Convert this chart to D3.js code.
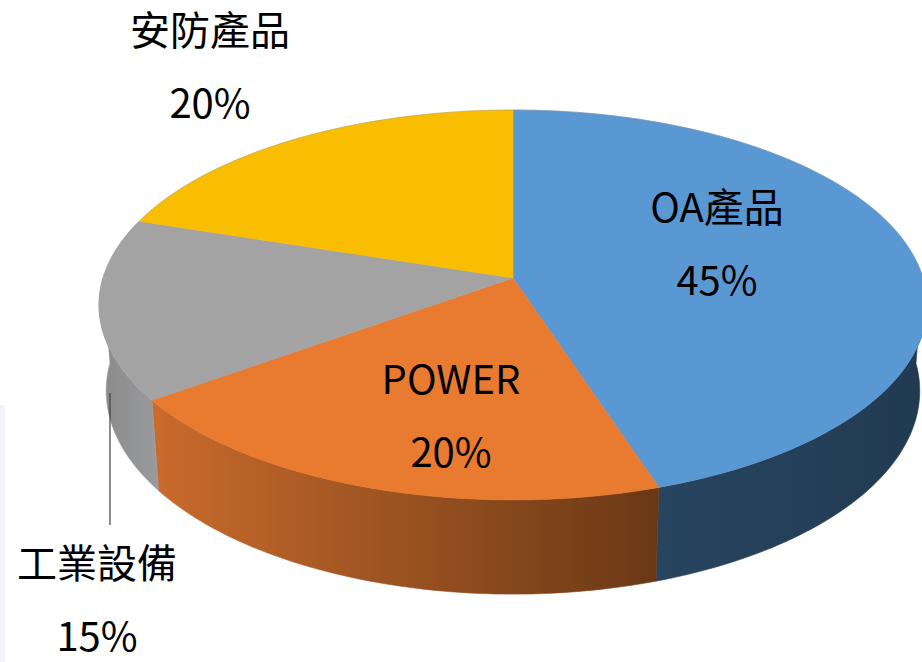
<!DOCTYPE html>
<html lang="zh-Hant">
    <head>
        <meta charset="utf-8">
        <title>產品營收比重 (3D Pie)</title>
        <script type="text/javascript" src="https://d3js.org/d3.v7.min.js"></script>
        <style type="text/css">
            body { margin: 0; background: #fff; }
            text { font-family: "Noto Sans CJK TC", "Noto Sans", sans-serif; }
        </style>
    </head>
    <body>
        <script type="text/javascript">

        //Data
        const categories = ["OA產品", "POWER", "工業設備", "安防產品"];
        const values = [45, 20, 15, 20];
        const percentLabels = ["45%", "20%", "15%", "20%"];

        //Colours: top face, wall gradient (left -> right)
        const topColors = ["#5a98d3", "#e97b31", "#a3a3a3", "#f9be02"];
        const wallColors = [["#28455f", "#213a51"], ["#c96b2c", "#6a3815"], ["#8a8a8a", "#9a9b9d"], ["#c08f00", "#c08f00"]];

        //Label anchors (x, first baseline)
        const labelPos = [[717, 222], [451, 394], [97, 578], [210, 45]];

        //Layout
        const width = 922;
        const height = 662;
        const cx = 513, cy = 278;
        const R = 410;        // radius of pie
        const H = 98;         // thickness
        const tilt = 27.8 * Math.PI / 180;
        const F = 2622;       // perspective focal length
        const sa = Math.sin(tilt), ca = Math.cos(tilt);
        const lineGap = 73;

        //project a point on the pie rim (angle t, height Y) to the screen
        function proj(t, Y, r = R) {
            const X = r * Math.cos(t), Z = r * Math.sin(t);
            const up = Y * ca + Z * sa;
            const depth = Z * ca - Y * sa;
            const k = F / (F + depth);
            return [cx + X * k, cy - up * k];
        }

        const svg = d3.select("body")
                    .append("svg")
                    .attr("width", width)
                    .attr("height", height);

        const defs = svg.append("defs");

        //faint stripe on the left edge of the original picture
        svg.append("rect")
            .attr("x", 0).attr("y", 405)
            .attr("width", 5).attr("height", height - 405)
            .attr("fill", "#f3f3fb");

        const pie = d3.pie().sort(null).value(d => d)(values);
        //convert d3 angle (clockwise from 12 o'clock) to math angle (back = +90deg)
        const toT = a => Math.PI / 2 - a;

        const line = d3.line();

        //Walls (front half only: t in [-PI, 0])
        pie.forEach((d, i) => {
            let t1 = toT(d.startAngle), t2 = toT(d.endAngle); // t1 > t2
            const hi = Math.min(t1, 0), lo = Math.max(t2, -Math.PI);
            if (hi <= lo) return;
            const ts = d3.range(0, 61).map(j => hi - (hi - lo) * j / 60);
            const topPts = ts.map(t => proj(t, 0));
            const botPts = ts.slice().reverse().map(t => proj(t, -H));
            const pts = topPts.concat(botPts);
            const xs = pts.map(p => p[0]);

            const grad = defs.append("linearGradient")
                .attr("id", "wall" + i)
                .attr("gradientUnits", "userSpaceOnUse")
                .attr("x1", d3.min(xs)).attr("x2", d3.max(xs))
                .attr("y1", 0).attr("y2", 0);
            grad.append("stop").attr("offset", 0).attr("stop-color", wallColors[i][0]);
            grad.append("stop").attr("offset", 1).attr("stop-color", wallColors[i][1]);

            svg.append("path")
                .attr("d", line(pts) + "Z")
                .attr("fill", "url(#wall" + i + ")")
                .attr("stroke", "url(#wall" + i + ")")
                .attr("stroke-width", 0.6);
        });

        //Top faces
        pie.forEach((d, i) => {
            const t1 = toT(d.startAngle), t2 = toT(d.endAngle);
            const n = Math.max(8, Math.round((t1 - t2) / 0.02));
            const pts = [[cx, cy]].concat(d3.range(0, n + 1).map(j => proj(t1 - (t1 - t2) * j / n, 0)));
            svg.append("path")
                .attr("d", line(pts) + "Z")
                .attr("fill", topColors[i])
                .attr("stroke", topColors[i])
                .attr("stroke-width", 0.6);
        });

        //thin outline along the back rim
        const rimPts = d3.range(0, 181).map(j => proj(Math.PI * j / 180, 0));
        svg.append("path")
            .attr("d", line(rimPts))
            .attr("fill", "none")
            .attr("stroke", "#8c8c8c")
            .attr("stroke-width", 0.6)
            .attr("opacity", 0.6);

        //Leader line for 工業設備
        svg.append("line")
            .attr("x1", 110).attr("x2", 110)
            .attr("y1", 393).attr("y2", 525)
            .attr("stroke", "#404040")
            .attr("stroke-width", 1.2);

        //Labels
        categories.forEach((c, i) => {
            const g = svg.append("g")
                .attr("text-anchor", "middle")
                .attr("font-size", "40px")
                .attr("fill", "#000");
            g.append("text")
                .attr("x", labelPos[i][0])
                .attr("y", labelPos[i][1])
                .text(c);
            g.append("text")
                .attr("x", labelPos[i][0])
                .attr("y", labelPos[i][1] + lineGap)
                .text(percentLabels[i]);
        });

        </script>
    </body>
</html>
